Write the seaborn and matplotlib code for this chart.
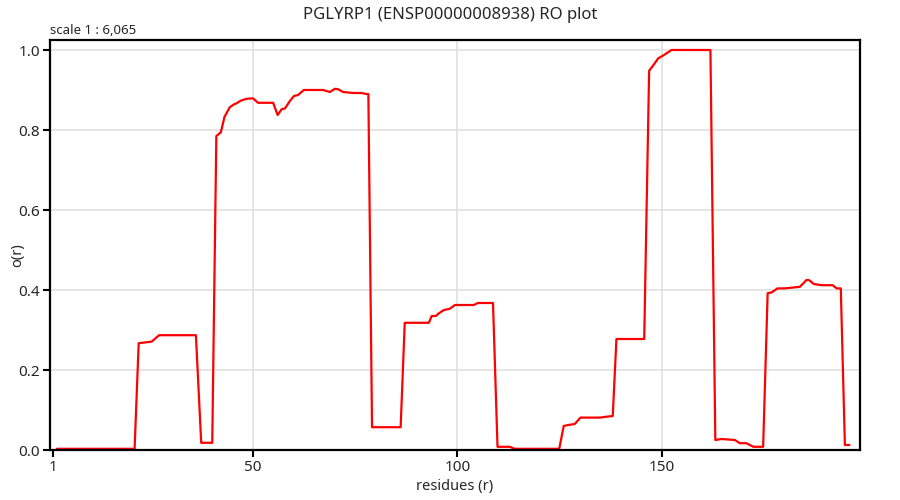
import matplotlib
matplotlib.use("Agg")
import matplotlib.pyplot as plt
import seaborn as sns
import pandas as pd

# RO profile vertices (residue, o(r))
residues = [2, 21, 22, 25.2, 27, 36, 37.3, 40, 41, 42.1, 43, 44.3, 45.3, 46, 46.9, 48.4, 49.6, 50,
            51.2, 54.9, 56, 57, 57.8, 59, 60, 61, 62.4, 67.1, 68.8, 70, 70.8, 72, 74.5, 76.5, 77.7,
            78.2, 79.1, 86.1, 87.1, 93, 93.7, 94.7, 95.5, 96.7, 98.1, 99.4, 104, 105, 108.7, 109.8,
            112.8, 114, 124.9, 126, 127.1, 128.7, 130.1, 134.9, 136.3, 138, 138.9, 145.7, 146.9,
            148.3, 149.1, 150.3, 152.4, 161.9, 163.1, 164.6, 167.9, 169.1, 170.7, 172.4, 174.8,
            175.9, 176.9, 178.3, 180.1, 183.8, 185.4, 186, 187.2, 189.1, 191.8, 192.8, 193.8, 194.8,
            195.9]
ro = [0.003, 0.003, 0.267, 0.271, 0.287, 0.287, 0.018, 0.018, 0.785, 0.794, 0.833, 0.857, 0.864,
      0.867, 0.873, 0.878, 0.879, 0.879, 0.868, 0.868, 0.8375, 0.852, 0.854, 0.8725, 0.885, 0.8875,
      0.9, 0.9, 0.895, 0.903, 0.902, 0.895, 0.8925, 0.8925, 0.89, 0.89, 0.057, 0.057, 0.318, 0.318,
      0.335, 0.335, 0.342, 0.35, 0.353, 0.3625, 0.3625, 0.3675, 0.3675, 0.008, 0.008, 0.003, 0.003,
      0.06, 0.0625, 0.065, 0.081, 0.081, 0.083, 0.085, 0.2775, 0.2775, 0.948, 0.967, 0.979, 0.986,
      1.0, 1.0, 0.025, 0.0275, 0.025, 0.017, 0.017, 0.008, 0.008, 0.392, 0.394, 0.404, 0.404, 0.408,
      0.425, 0.425, 0.415, 0.412, 0.412, 0.404, 0.404, 0.0125, 0.0125]

x_ticks = [1, 50, 100, 150]
y_ticks = [0.0, 0.2, 0.4, 0.6, 0.8, 1.0]

df = pd.DataFrame({"residue": residues, "ro": ro})

sns.set_style("white")
plt.rcParams["font.family"] = ["Noto Sans", "DejaVu Sans"]

fig = plt.figure(figsize=(9, 5), dpi=100)
ax = fig.add_axes([50 / 900, 50 / 500, 810 / 900, 410 / 500])

sns.lineplot(data=df, x="residue", y="ro", color="#ff0000", linewidth=1.6, ax=ax)

ax.set_xlim(0.3, 198.5)
ax.set_ylim(0, 1.025)
ax.set_xticks(x_ticks)
ax.set_yticks(y_ticks)
ax.set_yticklabels([f"{v:.1f}" for v in y_ticks])

# grid: vertical lines only at 50/100/150, horizontal at 0.2..1.0
for v in x_ticks[1:]:
    ax.axvline(v, color="#e0e0e0", linewidth=1.2, zorder=0)
for v in y_ticks[1:]:
    ax.axhline(v, color="#e0e0e0", linewidth=1.2, zorder=0)

for s in ax.spines.values():
    s.set_color("black")
    s.set_linewidth(1.6)
ax.tick_params(axis="both", direction="out", length=5, width=1.5, color="black",
               labelsize=11, bottom=True, left=True, pad=2)

ax.set_xlabel("residues (r)", fontsize=10.5, labelpad=3)
ax.set_ylabel("")
fig.text(18 / 900, 1 - 255 / 500, "o(r)", fontsize=10.5, rotation=90, va="center", ha="center")
fig.text(0.5, 1 - 15 / 500, "PGLYRP1 (ENSP00000008938) RO plot", fontsize=12,
         va="center", ha="center")
fig.text(50 / 900, 1 - 30 / 500, "scale 1 : 6,065", fontsize=9.5, va="center", ha="left")

fig.savefig("out.png", dpi=100)
